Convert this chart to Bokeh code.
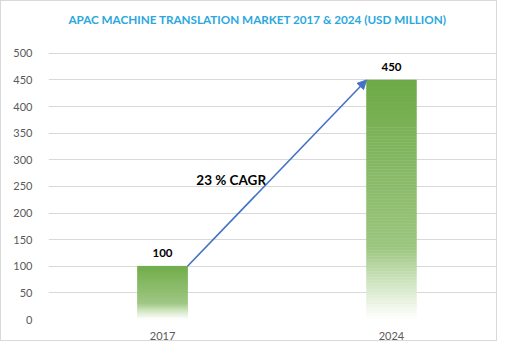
from bokeh.plotting import figure
from bokeh.models import Arrow, NormalHead, FixedTicker
from bokeh.core.properties import value
from bokeh.embed import file_html
from bokeh.resources import INLINE

# ---- data ----
years = ["2017", "2024"]
market = [100, 450]
cagr_label = "23 % CAGR"
title_text = "APAC MACHINE TRANSLATION MARKET 2017 & 2024 (USD MILLION)"
y_ticks = [0, 50, 100, 150, 200, 250, 300, 350, 400, 450, 500]

FONT = "Lato"

# frame extends above the 500 gridline to leave room for the title text
p = figure(width=497, height=341, x_range=(-0.498, 1.463), y_range=(0, 597.4),
           output_backend="svg", toolbar_location=None,
           min_border_left=47, min_border_right=1, min_border_top=0,
           min_border_bottom=22, styles={"border": "1px solid #d9d9d9"})
p.title = None
p.outline_line_color = None
p.background_fill_color = "white"
p.border_fill_color = "white"

# grid
p.xgrid.grid_line_color = None
p.ygrid.grid_line_color = "#D9D9D9"
p.ygrid.ticker = FixedTicker(ticks=y_ticks)

# axes
p.yaxis.ticker = FixedTicker(ticks=y_ticks)
p.xaxis.ticker = FixedTicker(ticks=list(range(len(years))))
p.xaxis.major_label_overrides = {i: y for i, y in enumerate(years)}
for ax in (p.xaxis, p.yaxis):
    ax.axis_line_color = None
    ax.major_tick_line_color = None
    ax.minor_tick_line_color = None
    ax.major_label_text_font = FONT
    ax.major_label_text_font_size = "11px"
    ax.major_label_text_color = "#595959"
p.yaxis.major_label_standoff = 10
p.xaxis.major_label_standoff = 6

# title text
p.text(x=[0.415], y=[565], text=[title_text], text_font=value(FONT),
       text_font_size="11.7px", text_font_style="bold", text_color="#2AA8DE",
       text_align="center", text_baseline="middle")

# gradient bars (style: slices of each bar shaded top->bottom)
stops = [(0.0, (110, 170, 70)), (0.7, (156, 198, 128)),
         (0.84, (205, 228, 190)), (1.0, (255, 255, 255))]

def shade(t):
    for (t0, c0), (t1, c1) in zip(stops[:-1], stops[1:]):
        if t <= t1:
            f = (t - t0) / (t1 - t0)
            return "#%02x%02x%02x" % tuple(int(round(a + (b - a) * f)) for a, b in zip(c0, c1))
    return "#ffffff"

N = 80
bw = 0.218
for i, v in enumerate(market):
    lefts, rights, tops, bottoms, colors = [], [], [], [], []
    for k in range(N):
        t_top = k / N
        t_bot = (k + 1) / N
        tops.append(v * (1 - t_top))
        bottoms.append(v * (1 - t_bot))
        lefts.append(i - bw / 2)
        rights.append(i + bw / 2)
        colors.append(shade((t_top + t_bot) / 2))
    p.quad(left=lefts, right=rights, top=tops, bottom=bottoms,
           fill_color=colors, line_color=colors, line_width=0.5)

# value labels
p.text(x=list(range(len(years))), y=market, text=[str(v) for v in market],
       text_font=value(FONT), text_font_size="11.5px", text_font_style="bold",
       text_color="black", text_align="center", text_baseline="bottom", y_offset=-9)

# CAGR arrow from top-right of first bar to top-left of second bar
p.add_layout(Arrow(x_start=0 + bw / 2, y_start=market[0],
                   x_end=1 - bw / 2, y_end=market[1],
                   line_color="#4472C4", line_width=1.6,
                   end=NormalHead(size=9, fill_color="#4472C4", line_color="#4472C4")))

p.text(x=[0.3], y=[262], text=[cagr_label], text_font=value(FONT),
       text_font_size="13.5px", text_font_style="bold", text_color="black",
       text_align="center", text_baseline="middle")

open("out.html", "w").write(file_html(p, INLINE))
